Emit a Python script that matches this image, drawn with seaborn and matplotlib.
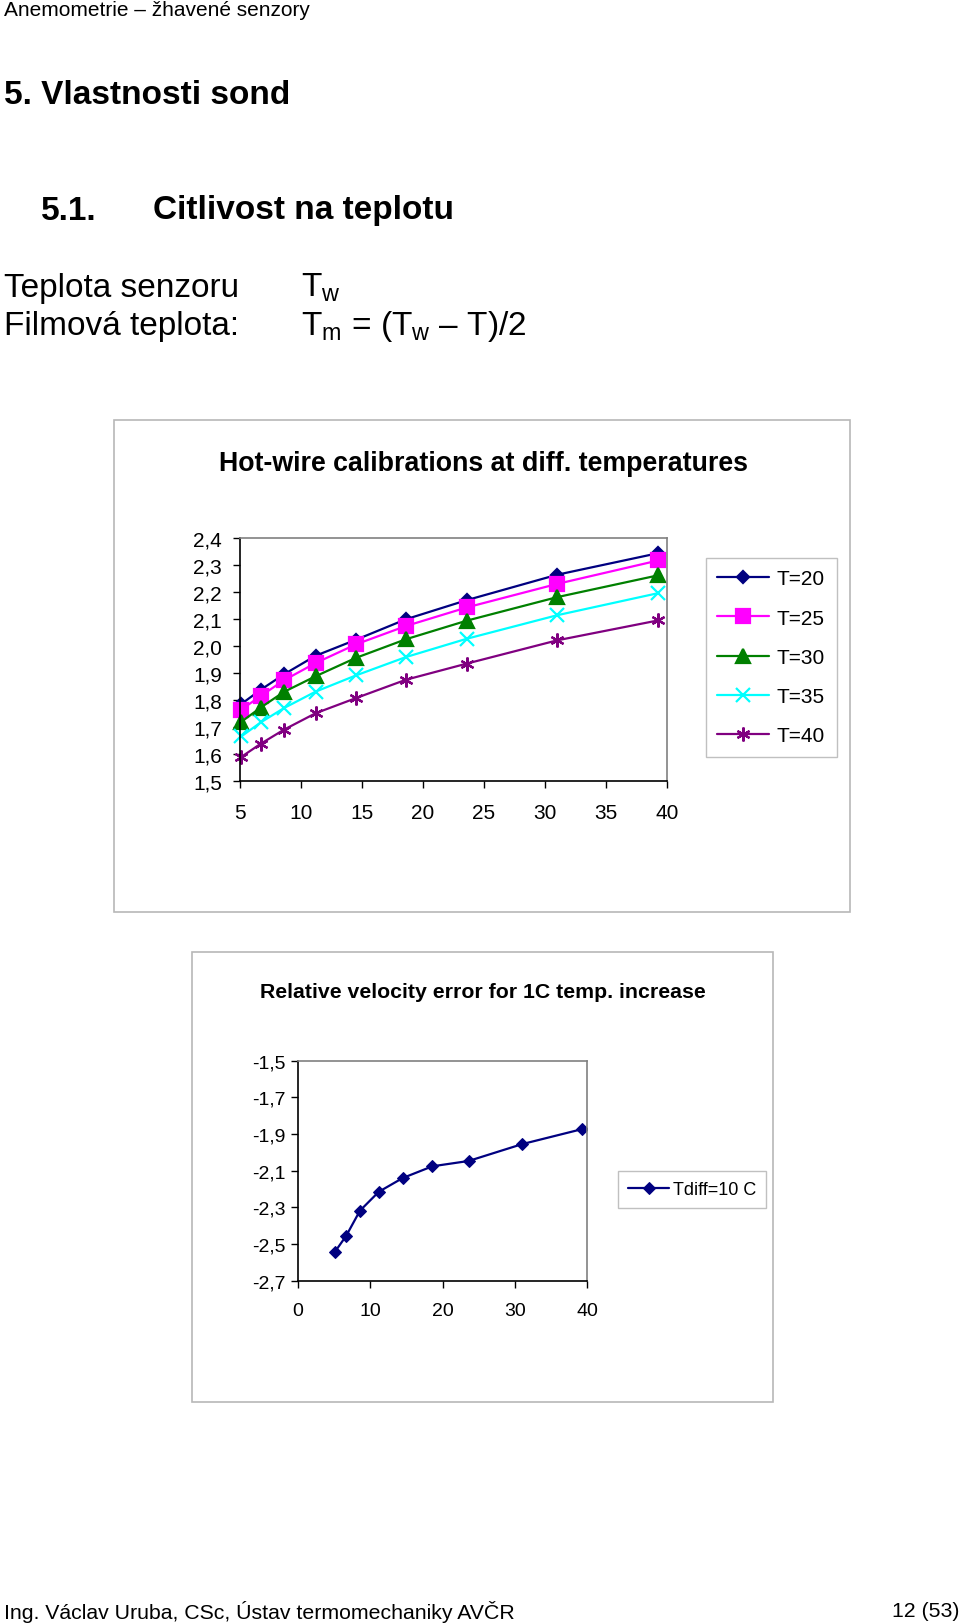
import matplotlib
matplotlib.use('Agg')
import pandas as pd
import seaborn as sns
from matplotlib import pyplot as plt
from matplotlib.patches import Rectangle
from matplotlib.ticker import FuncFormatter

# flow velocity, same points for every curve
velocity = [5.1, 6.7, 8.6, 11.2, 14.5, 18.6, 23.6, 31.0, 39.3]

# anemometer output for each air temperature
E_T20 = [1.785, 1.838, 1.895, 1.964, 2.023, 2.099, 2.170, 2.264, 2.344]
E_T25 = [1.764, 1.815, 1.873, 1.937, 2.006, 2.074, 2.143, 2.230, 2.317]
E_T30 = [1.719, 1.772, 1.830, 1.888, 1.956, 2.025, 2.094, 2.181, 2.262]
E_T35 = [1.665, 1.717, 1.770, 1.831, 1.891, 1.959, 2.027, 2.114, 2.196]
E_T40 = [1.589, 1.638, 1.690, 1.751, 1.807, 1.875, 1.935, 2.021, 2.095]
temp_labels = ['T=20', 'T=25', 'T=30', 'T=35', 'T=40']

# relative velocity error for 1C increase
rel_error = [-2.545, -2.455, -2.318, -2.215, -2.140, -2.076, -2.047, -1.955, -1.873]
err_label = 'Tdiff=10 C'

y1_ticks = [1.5, 1.6, 1.7, 1.8, 1.9, 2.0, 2.1, 2.2, 2.3, 2.4]
x1_ticks = [5, 10, 15, 20, 25, 30, 35, 40]
y2_ticks = [-2.7, -2.5, -2.3, -2.1, -1.9, -1.7, -1.5]
x2_ticks = [0, 10, 20, 30, 40]

sns.set_theme(style='white')
plt.rcParams['font.family'] = ['Liberation Sans', 'DejaVu Sans']
plt.rcParams['text.color'] = 'black'
plt.rcParams['xtick.color'] = 'black'
plt.rcParams['ytick.color'] = 'black'
plt.rcParams['axes.labelcolor'] = 'black'
plt.rcParams['mathtext.fontset'] = 'custom'
plt.rcParams['mathtext.rm'] = 'Liberation Sans'
plt.rcParams['mathtext.it'] = 'Liberation Sans:italic'
plt.rcParams['mathtext.bf'] = 'Liberation Sans:bold'

W, H = 960, 1624
fig = plt.figure(figsize=(W / 100, H / 100), dpi=100)


def fx(x):
    return x / W


def fy(y):
    return 1 - y / H


def comma(v, pos):
    return f'{v:.1f}'.replace('.', ',')


# page text
fig.text(fx(4), fy(11), 'Anemometrie – žhavené senzory', fontsize=15, va='center')
fig.text(fx(4), fy(96), '5. Vlastnosti sond', fontsize=24, weight='bold', va='center')
fig.text(fx(41), fy(211), '5.1.', fontsize=24, weight='bold', va='center')
fig.text(fx(153), fy(211), 'Citlivost na teplotu', fontsize=24, weight='bold', va='center')
fig.text(fx(4), fy(288), 'Teplota senzoru', fontsize=24, va='center')
fig.text(fx(301), fy(288), r'T$_\mathrm{w}$', fontsize=24, va='center')
fig.text(fx(4), fy(327), 'Filmová teplota:', fontsize=24, va='center')
fig.text(fx(301), fy(327), r'T$_\mathrm{m}$ = (T$_\mathrm{w}$ – T)/2', fontsize=24, va='center')
fig.text(fx(4), fy(1612), 'Ing. Václav Uruba, CSc, Ústav termomechaniky AVČR',
         fontsize=15.3, va='center')
fig.text(fx(960), fy(1612), '12 (53)', fontsize=15.3, va='center', ha='right')

# chart frames
for x0, y0, x1, y1 in [(114, 421, 850, 913), (192, 953, 773, 1403)]:
    fig.patches.append(Rectangle((fx(x0), fy(y1)), fx(x1 - x0), (y1 - y0) / H,
                                 transform=fig.transFigure, fill=False,
                                 edgecolor='#b8b8b8', lw=1.2))


def style_axes(ax):
    for s in ['top', 'right']:
        ax.spines[s].set_color('#808080')
        ax.spines[s].set_linewidth(1.2)
    for s in ['left', 'bottom']:
        ax.spines[s].set_color('black')
        ax.spines[s].set_linewidth(1.2)
    ax.set_xlabel('')
    ax.set_ylabel('')


# ---- chart 1: calibrations
df = pd.DataFrame({
    'U': velocity * 5,
    'E': E_T20 + E_T25 + E_T30 + E_T35 + E_T40,
    'T': [t for t in temp_labels for _ in velocity],
})
colors = ['#000080', '#FF00FF', '#008000', '#00FFFF', '#800080']
markers = ['D', 's', '^', 'x', (6, 2, 0)]
msizes = [6.4, 9.5, 10, 10, 10]

ax1 = fig.add_axes([fx(240), fy(782), fx(427), (782 - 539) / H])
sns.lineplot(data=df, x='U', y='E', hue='T', palette=colors,
             errorbar=None, legend=False, linewidth=1.6, ax=ax1)
for line, c, m, ms in zip(ax1.lines, colors, markers, msizes):
    line.set_marker(m)
    line.set_markerfacecolor(c)
    line.set_markeredgecolor(c)
    line.set_markersize(ms)
    line.set_markeredgewidth(1.6)
    line.set_clip_on(False)
ax1.set_xlim(5, 40)
ax1.set_ylim(1.5, 2.4)
ax1.set_xticks(x1_ticks)
ax1.set_yticks(y1_ticks)
ax1.yaxis.set_major_formatter(FuncFormatter(comma))
ax1.tick_params(axis='both', direction='out', length=5, width=1, color='black',
                labelsize=15, left=True, bottom=True)
ax1.tick_params(axis='y', pad=8)
ax1.tick_params(axis='x', pad=10.5)
style_axes(ax1)
ax1.legend(ax1.lines, temp_labels, loc='upper left',
           bbox_to_anchor=(fx(706), fy(559)), bbox_transform=fig.transFigure,
           fontsize=15, frameon=True, fancybox=False, framealpha=1,
           edgecolor='#c0c0c0', handlelength=2.45, handletextpad=0.4,
           labelspacing=0.97, borderpad=0.55, borderaxespad=0)
ax1.get_legend().get_frame().set_linewidth(1.0)
fig.text(fx(483), fy(464), 'Hot-wire calibrations at diff. temperatures',
         fontsize=19.3, weight='bold', ha='center', va='center')

# ---- chart 2: relative error
df2 = pd.DataFrame({'U': velocity, 'err': rel_error})
ax2 = fig.add_axes([fx(297.7), fy(1281.7), fx(289.6), 220 / H])
sns.lineplot(data=df2, x='U', y='err', color='#000080', marker='D',
             errorbar=None, linewidth=1.6, ax=ax2)
l2 = ax2.lines[0]
l2.set_markerfacecolor('#000080')
l2.set_markeredgecolor('#000080')
l2.set_markersize(6.4)
ax2.set_xlim(0, 40)
ax2.set_ylim(-2.7, -1.5)
ax2.set_xticks(x2_ticks)
ax2.set_yticks(y2_ticks)
ax2.yaxis.set_major_formatter(FuncFormatter(comma))
ax2.tick_params(axis='both', direction='out', length=5, width=1, color='black',
                labelsize=14, left=True, bottom=True)
ax2.tick_params(axis='y', pad=3.5)
ax2.tick_params(axis='x', pad=10.5)
style_axes(ax2)
leg2 = ax2.legend([l2], [err_label], loc='upper left',
                  bbox_to_anchor=(fx(618), fy(1172)), bbox_transform=fig.transFigure,
                  fontsize=13, frameon=True, fancybox=False,
                  framealpha=1, edgecolor='#c0c0c0', handlelength=2.3,
                  handletextpad=0.2, borderpad=0.55, borderaxespad=0)
leg2.get_frame().set_linewidth(1.0)
fig.text(fx(483), fy(993), 'Relative velocity error for 1C temp. increase',
         fontsize=15.3, weight='bold', ha='center', va='center')

fig.savefig('out.png', dpi=100)
